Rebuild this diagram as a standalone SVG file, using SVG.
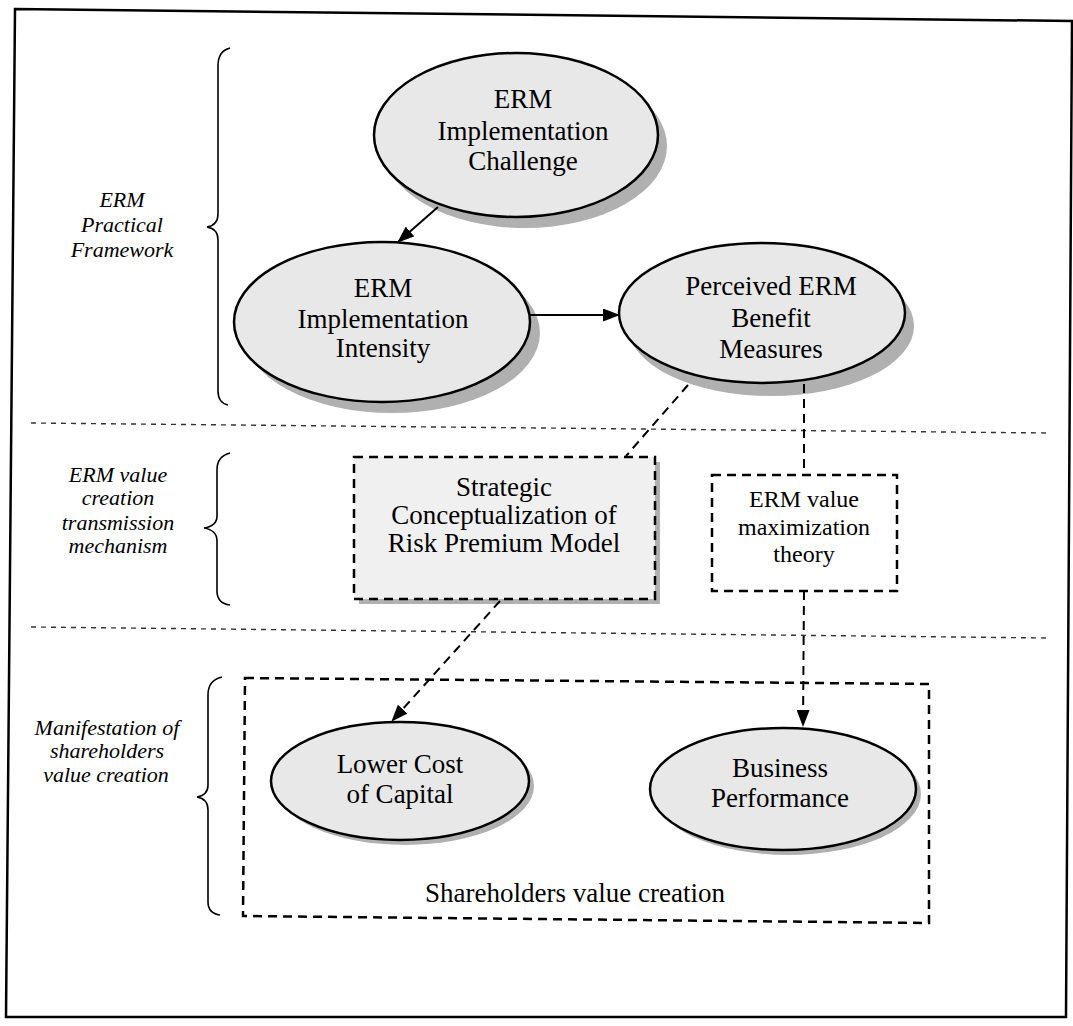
<svg xmlns="http://www.w3.org/2000/svg" width="1073" height="1026" viewBox="0 0 1073 1026">
  <style>
    .node-text { font-family: "Liberation Serif", "Times New Roman", serif; font-size: 27px; fill: #000; text-anchor: middle; }
    .small-text { font-family: "Liberation Serif", "Times New Roman", serif; font-size: 24px; fill: #000; text-anchor: middle; }
    .side-label { font-family: "Liberation Serif", "Times New Roman", serif; font-size: 22px; font-style: italic; fill: #000; text-anchor: middle; }
    .ellipse { fill: #e8e8e8; stroke: #000; stroke-width: 2.5; }
    .shadow { fill: #b0b0b0; stroke: none; }
    .brace { fill: none; stroke: #000; stroke-width: 1.6; }
    .separator { fill: none; stroke: #333; stroke-width: 1.4; stroke-dasharray: 5 5; }
    .dash-box { fill: none; stroke: #000; stroke-width: 2.5; stroke-dasharray: 9 6; }
    .solid-link { fill: none; stroke: #000; stroke-width: 2; }
    .dash-link { fill: none; stroke: #000; stroke-width: 2; stroke-dasharray: 9 6; }
  </style>
  <defs>
    <marker id="arrow" viewBox="0 0 17 13" markerWidth="17" markerHeight="13" refX="16" refY="6.5" orient="auto" markerUnits="userSpaceOnUse">
      <path d="M0,0 L17,6.5 L0,13 z" fill="#000"/>
    </marker>
  </defs>

  <rect width="1073" height="1026" fill="#fff"/>

  <!-- outer frame -->
  <polygon points="15,9 1072,21 1066,1017 6,1017" fill="none" stroke="#000" stroke-width="2.5"/>

  <!-- section separators -->
  <line class="separator" x1="31" y1="423" x2="1049" y2="433"/>
  <line class="separator" x1="31" y1="627" x2="1049" y2="638"/>

  <!-- braces and section labels -->
  <g id="section-practical">
    <path class="brace" d="M230,48 C222,50 218,56 218,66 L218,214 C218,222 213,226 207,227 C213,228 218,232 218,240 L218,391 C218,399 222,404 228,405"/>
    <text class="side-label" x="122" y="207">ERM</text>
    <text class="side-label" x="122" y="232">Practical</text>
    <text class="side-label" x="122" y="257">Framework</text>
  </g>
  <g id="section-transmission">
    <path class="brace" d="M230,453 C222,455 217,461 217,470 L217,516 C217,524 211,527 204,528 C211,529 217,533 217,541 L217,591 C217,600 222,604 230,605"/>
    <text class="side-label" x="118" y="482">ERM value</text>
    <text class="side-label" x="118" y="505">creation</text>
    <text class="side-label" x="118" y="530">transmission</text>
    <text class="side-label" x="118" y="553">mechanism</text>
  </g>
  <g id="section-manifestation">
    <path class="brace" d="M222,677 C213,679 208,685 208,695 L208,785 C208,793 203,796 197,797 C203,798 208,802 208,810 L208,902 C208,910 213,914 220,915"/>
    <text class="side-label" x="107" y="735">Manifestation of</text>
    <text class="side-label" x="107" y="758">shareholders</text>
    <text class="side-label" x="106" y="782">value creation</text>
  </g>

  <!-- nodes -->
  <g id="node-challenge">
    <ellipse class="shadow" cx="525" cy="146" rx="142" ry="82"/>
    <ellipse class="ellipse" cx="516" cy="135" rx="142" ry="82"/>
    <text class="node-text" x="523" y="108">ERM</text>
    <text class="node-text" x="523" y="140">Implementation</text>
    <text class="node-text" x="523" y="170">Challenge</text>
  </g>

  <g id="node-intensity">
    <ellipse class="shadow" cx="392" cy="333" rx="148" ry="80"/>
    <ellipse class="ellipse" cx="382" cy="322" rx="148" ry="80"/>
    <text class="node-text" x="383" y="297">ERM</text>
    <text class="node-text" x="383" y="328">Implementation</text>
    <text class="node-text" x="383" y="357">Intensity</text>
  </g>

  <g id="node-perceived">
    <ellipse class="shadow" cx="771" cy="326" rx="143" ry="70"/>
    <ellipse class="ellipse" cx="762" cy="313" rx="143" ry="70"/>
    <text class="node-text" x="771" y="295">Perceived ERM</text>
    <text class="node-text" x="771" y="327">Benefit</text>
    <text class="node-text" x="771" y="358">Measures</text>
  </g>

  <g id="node-strategic">
    <rect class="shadow" x="359" y="462" width="301" height="142"/>
    <rect x="354" y="457" width="301" height="142" fill="#f0f0f0"/>
    <rect class="dash-box" x="354" y="457" width="301" height="142"/>
    <text class="node-text" x="504" y="496">Strategic</text>
    <text class="node-text" x="504" y="524">Conceptualization of</text>
    <text class="node-text" x="504" y="552">Risk Premium Model</text>
  </g>

  <g id="node-value-max">
    <rect class="dash-box" x="712" y="475" width="185" height="116"/>
    <text class="small-text" x="804" y="507">ERM value</text>
    <text class="small-text" x="804" y="535">maximization</text>
    <text class="small-text" x="804" y="562">theory</text>
  </g>

  <g id="node-shareholders">
    <polygon class="dash-box" points="245,678 929,684 929,923 243,916"/>
    <text class="node-text" x="575" y="902">Shareholders value creation</text>
  </g>

  <g id="node-cost-of-capital">
    <ellipse class="shadow" cx="405" cy="786" rx="129" ry="59"/>
    <ellipse class="ellipse" cx="400" cy="781" rx="129" ry="59"/>
    <text class="node-text" x="400" y="773">Lower Cost</text>
    <text class="node-text" x="400" y="803">of Capital</text>
  </g>

  <g id="node-business-performance">
    <ellipse class="shadow" cx="788" cy="794" rx="133" ry="61"/>
    <ellipse class="ellipse" cx="783" cy="789" rx="133" ry="61"/>
    <text class="node-text" x="780" y="777">Business</text>
    <text class="node-text" x="780" y="807">Performance</text>
  </g>

  <!-- connectors -->
  <g id="connectors">
    <line class="solid-link" x1="438" y1="207" x2="398" y2="242" marker-end="url(#arrow)"/>
    <line class="solid-link" x1="530" y1="315" x2="619" y2="315" marker-end="url(#arrow)"/>
    <line class="dash-link" x1="688" y1="385" x2="626" y2="456"/>
    <line class="dash-link" x1="500" y1="601" x2="392" y2="721" marker-end="url(#arrow)"/>
    <line class="dash-link" x1="804" y1="384" x2="804" y2="475"/>
    <line class="dash-link" x1="804" y1="591" x2="803" y2="726" marker-end="url(#arrow)"/>
  </g>
</svg>
